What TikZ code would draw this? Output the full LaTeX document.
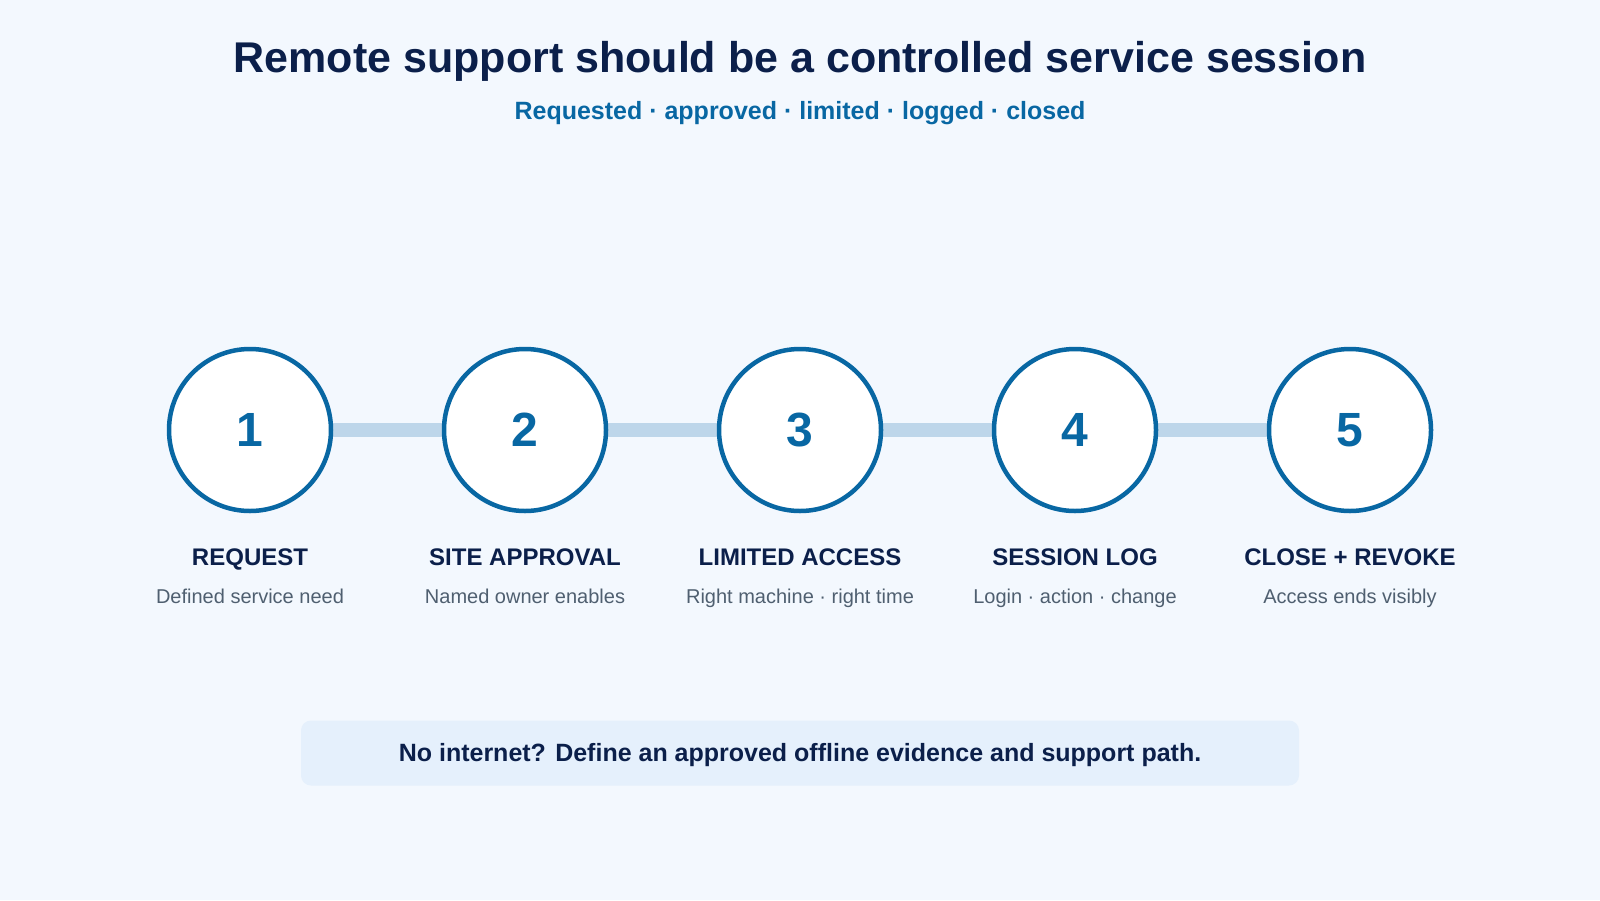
\documentclass[tikz,border=0pt]{standalone}
\usepackage{fontspec}
\setmainfont{Liberation Sans}
\definecolor{bg}{HTML}{F3F8FE}
\definecolor{navy}{HTML}{0B1F4A}
\definecolor{blue}{HTML}{0867A3}
\definecolor{conn}{HTML}{BDD6EA}
\definecolor{boxc}{HTML}{E5F0FC}
\definecolor{gray}{HTML}{4F5F70}
\begin{document}
\begin{tikzpicture}[x=1pt,y=-1pt,
  stepc/.style={circle,draw=blue,line width=4.5pt,fill=white,minimum size=162pt,inner sep=0pt},
  num/.style={anchor=base,font=\fontsize{48}{48}\selectfont\bfseries,text=blue},
  lab/.style={anchor=base,font=\fontsize{24}{24}\selectfont\bfseries,text=navy},
  sub/.style={anchor=base,font=\fontsize{20}{20}\selectfont,text=gray},
  link/.style={conn,line width=14pt}]
\fill[bg] (0,0) rectangle (1600,900);
\useasboundingbox (0,0) rectangle (1600,900);
\node[anchor=base,font=\fontsize{43}{43}\selectfont\bfseries,text=navy] (title) at (800,72) {Remote support should be a controlled service session};
\node[anchor=base,font=\fontsize{25}{25}\selectfont\bfseries,text=blue] (subtitle) at (800,119) {Requested · approved · limited · logged · closed};
\foreach \i/\x in {1/250,2/525,3/800,4/1075,5/1350}{\coordinate (c\i) at (\x,430);}
\draw[link] (c1) -- (c5);
\foreach \i/\x/\a/\b in {1/250/REQUEST/Defined service need,2/525/SITE APPROVAL/Named owner enables,3/800/LIMITED ACCESS/Right machine · right time,4/1075/SESSION LOG/Login · action · change,5/1350/CLOSE + REVOKE/Access ends visibly}{
  \node[stepc] (s\i) at (c\i) {};
  \node[num] (n\i) at (\x,446) {\i};
  \node[lab] (l\i) at (\x,565) {\a};
  \node[sub] (d\i) at (\x,603) {\b};
}
\node[fill=boxc,rounded corners=10pt,minimum width=998pt,minimum height=65pt] (note) at (800,753) {};
\node[anchor=base,font=\fontsize{25}{25}\selectfont\bfseries,text=navy] (notet) at (800,761) {No internet? Define an approved offline evidence and support path.};
\end{tikzpicture}
\end{document}
